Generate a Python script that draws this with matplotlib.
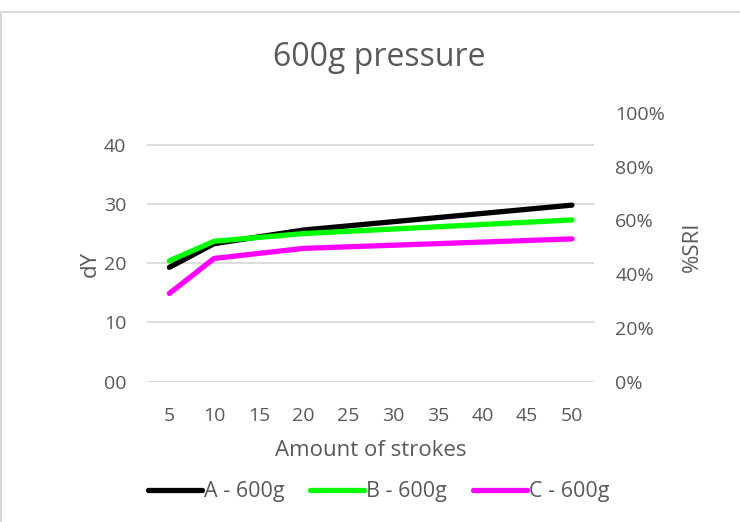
import matplotlib
matplotlib.use("Agg")
import matplotlib.pyplot as plt
from matplotlib.patches import Rectangle

# strokes (category axis 5..50), series measured only at a few stroke counts
categories = [5, 10, 15, 20, 25, 30, 35, 40, 45, 50]
strokes = [5, 10, 20, 50]
a_600 = [19.3, 23.3, 25.6, 29.8]
b_600 = [20.4, 23.7, 25.0, 27.3]
c_600 = [14.9, 20.8, 22.5, 24.1]

left_ticks = [0, 10, 20, 30, 40]
left_labels = ["00", "10", "20", "30", "40"]
right_ticks = [0, 0.2, 0.4, 0.6, 0.8, 1.0]
right_labels = ["0%", "20%", "40%", "60%", "80%", "100%"]

plt.rcParams['font.family'] = ['Open Sans', 'DejaVu Sans']
grey = "#595959"

W, H = 740, 522
fig = plt.figure(figsize=(W / 100, H / 100), dpi=100)

# outer chart border (partially cropped in the reference)
fig.patches.append(Rectangle((1 / W, -0.05), 1.05, 1 - 12 / H + 0.05,
                             transform=fig.transFigure, fill=False,
                             edgecolor="#d9d9d9", linewidth=1.5))

x0, x1 = 147, 594.3
y_top, y_bot = 112.7, 381.7
ax = fig.add_axes([x0 / W, 1 - y_bot / H, (x1 - x0) / W, (y_bot - y_top) / H])
ax.set_facecolor("none")

ax.plot(strokes, a_600, color="black", lw=3.8, solid_capstyle="round", label="A - 600g", zorder=3)
ax.plot(strokes, b_600, color="#00ff00", lw=3.8, solid_capstyle="round", label="B - 600g", zorder=4)
ax.plot(strokes, c_600, color="#ff00ff", lw=3.8, solid_capstyle="round", label="C - 600g", zorder=3)

ax.set_xlim(2.5, 52.5)
ax.set_ylim(0, 45.4)
ax.set_xticks(categories)
ax.set_xticklabels([str(c) for c in categories])
ax.set_yticks(left_ticks)
ax.set_yticklabels(left_labels)
ax.grid(axis="y", color="#d9d9d9", lw=1.3)
ax.set_axisbelow(True)
ax.tick_params(axis="both", length=0, colors=grey, labelsize=14)
ax.tick_params(axis="y", pad=15)
ax.tick_params(axis="x", pad=18)
for s in ax.spines.values():
    s.set_visible(False)

ax2 = ax.twinx()
ax2.set_ylim(0, 1.0)
ax2.set_yticks(right_ticks)
ax2.set_yticklabels(right_labels)
ax2.tick_params(axis="y", length=0, colors=grey, labelsize=14, pad=15)
for s in ax2.spines.values():
    s.set_visible(False)

fig.text(379 / W, 1 - 57 / H, "600g pressure", ha="center", va="center",
         fontsize=23, color=grey)
fig.text(370.6 / W, 1 - 450 / H, "Amount of strokes", ha="center", va="center",
         fontsize=16, color=grey)
fig.text(90 / W, 1 - 264 / H, "dY", ha="center", va="center", rotation=90,
         fontsize=16, color=grey)
fig.text(692 / W, 1 - 247 / H, "%SRI", ha="center", va="center", rotation=90,
         fontsize=16, color=grey)

handles, labels = ax.get_legend_handles_labels()
leg = fig.legend(handles, labels, loc="center", ncol=3,
                 bbox_to_anchor=(378.5 / W, 1 - 492 / H), frameon=False,
                 fontsize=15.5, handlelength=2.5, handletextpad=0.1,
                 columnspacing=1.2)
for t in leg.get_texts():
    t.set_color(grey)

fig.savefig("out.png", dpi=100, facecolor="white")
